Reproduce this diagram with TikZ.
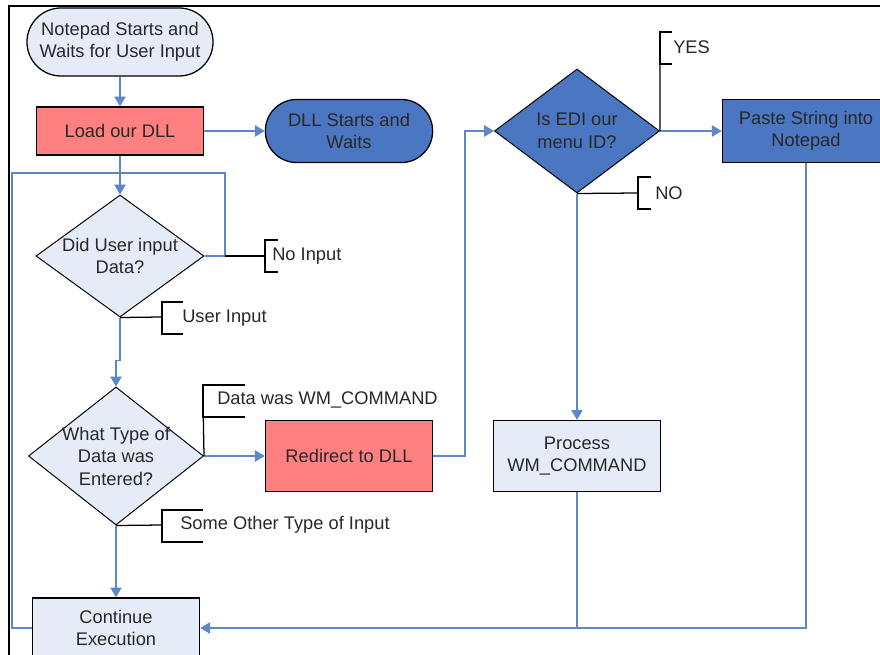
\documentclass[tikz,border=0pt]{standalone}
\usepackage{fontspec}
\setmainfont{Liberation Sans}
\usetikzlibrary{shapes.geometric,arrows.meta}
\definecolor{paleblue}{RGB}{230,236,247}
\definecolor{salmon}{RGB}{255,128,128}
\definecolor{midblue}{RGB}{74,118,194}
\definecolor{linkblue}{RGB}{92,136,200}
\definecolor{inktext}{RGB}{40,40,40}
\tikzset{
	every node/.style={font=\fontsize{13}{16}\selectfont, align=center, text=inktext},
	terminal/.style={draw=black, line width=0.9pt, rectangle},
	process/.style={draw=black, line width=0.9pt, rectangle, minimum width=4.18cm, inner sep=0pt},
	decision/.style={draw=black, line width=0.7pt, diamond, inner sep=0pt},
	link/.style={linkblue, line width=1.2pt},
	flow/.style={link, -{Triangle[length=7pt,width=8pt]}},
	tag/.style={black, line width=0.9pt},
	tagtext/.style={anchor=west, inner sep=0pt}
}
\begin{document}
\begin{tikzpicture}[x=0.025cm,y=-0.025cm]
		\useasboundingbox (0,0) rectangle (880,655);
		\clip (0,0) rectangle (880,655);
		% left column
		\node[terminal, fill=paleblue, minimum width=4.65cm, minimum height=1.7cm, rounded corners=0.85cm] (start) at (120,42) {Notepad Starts and\\Waits for User Input};
		\node[process, fill=salmon, minimum height=1.2cm] (load) at (120,131) {Load our DLL};
		\node[terminal, fill=midblue, minimum width=4.18cm, minimum height=1.575cm, rounded corners=0.78cm] (dll) at (349,131) {DLL Starts and\\Waits};
		\node[decision, fill=paleblue, minimum width=4.2cm, minimum height=3.05cm] (input) at (120,256) {};
		\node (inputT) at (input) {Did User input\\Data?};
		\node[decision, fill=paleblue, minimum width=4.375cm, minimum height=3.45cm] (kind) at (116,456) {};
		\node (kindT) at (kind) {What Type of\\Data was\\Entered?};
		\node[process, fill=salmon, minimum height=1.775cm] (redir) at (349,456) {Redirect to DLL};
		\node[process, fill=paleblue, minimum height=1.5cm] (cont) at (116,628) {Continue\\Execution};
		% right column
		\node[decision, fill=midblue, minimum width=4.125cm, minimum height=3.1cm] (edi) at (577,131) {};
		\node (ediT) at (edi) {Is EDI our\\menu ID?};
		\node[process, fill=midblue, minimum height=1.575cm] (paste) at (806,131) {Paste String into\\Notepad};
		\node[process, fill=paleblue, minimum height=1.775cm] (proc) at (577,456) {Process\\WM\_COMMAND};
		% connectors
		\coordinate (back) at (225,173);
		\draw[flow] (start) -- (load);
		\draw[flow] (load) -- (dll);
		\draw[flow] (load) -- (input);
		\draw[link] (input.east) -| (back) -- (12,173) |- (cont.west);
		\draw[flow] (input.south) -- ++(0,43) -| (kind.north);
		\draw[flow] (kind) -- (redir);
		\draw[flow] (kind) -- (cont);
		\draw[flow] (redir.east) -- ++(32,0) |- (edi.west);
		\draw[flow] (edi) -- (paste);
		\draw[flow] (edi) -- (proc);
		\draw[link] (proc) -- (proc |- cont);
		\draw[flow] (paste) |- (cont);
		% branch labels
		\draw[tag] (back |- input.east) -- (265,256);
		\draw[tag] (input.south) -- (162,317);
		\draw[tag] (kind.east) -- (203,401);
		\draw[tag] (kind.south) -- (162,525);
		\draw[tag] (edi.east) -- (660,48);
		\draw[tag] (edi.south) -- (638,193);
		\foreach \x/\y/\w in {265/256/13, 162/318/21, 203/401/42, 162/526/41, 660/48/12, 638/193/13}{
			\draw[tag] (\x+\w,\y-16) -- (\x,\y-16) -- (\x,\y+16) -- (\x+\w,\y+16);
		}
		\node[tagtext] (noin) at (272,256) {No Input};
		\node[tagtext] (userin) at (182,318) {User Input};
		\node[tagtext] (wmcmd) at (217,400) {Data was WM\_COMMAND};
		\node[tagtext] (other) at (180,525) {Some Other Type of Input};
		\node[tagtext] (yes) at (673,47) {YES};
		\node[tagtext] (no) at (655,193) {NO};
		% frame
		\draw[line width=1.5pt] (9,655) -- (9,6) -- (880,6);
	\end{tikzpicture}
\end{document}
